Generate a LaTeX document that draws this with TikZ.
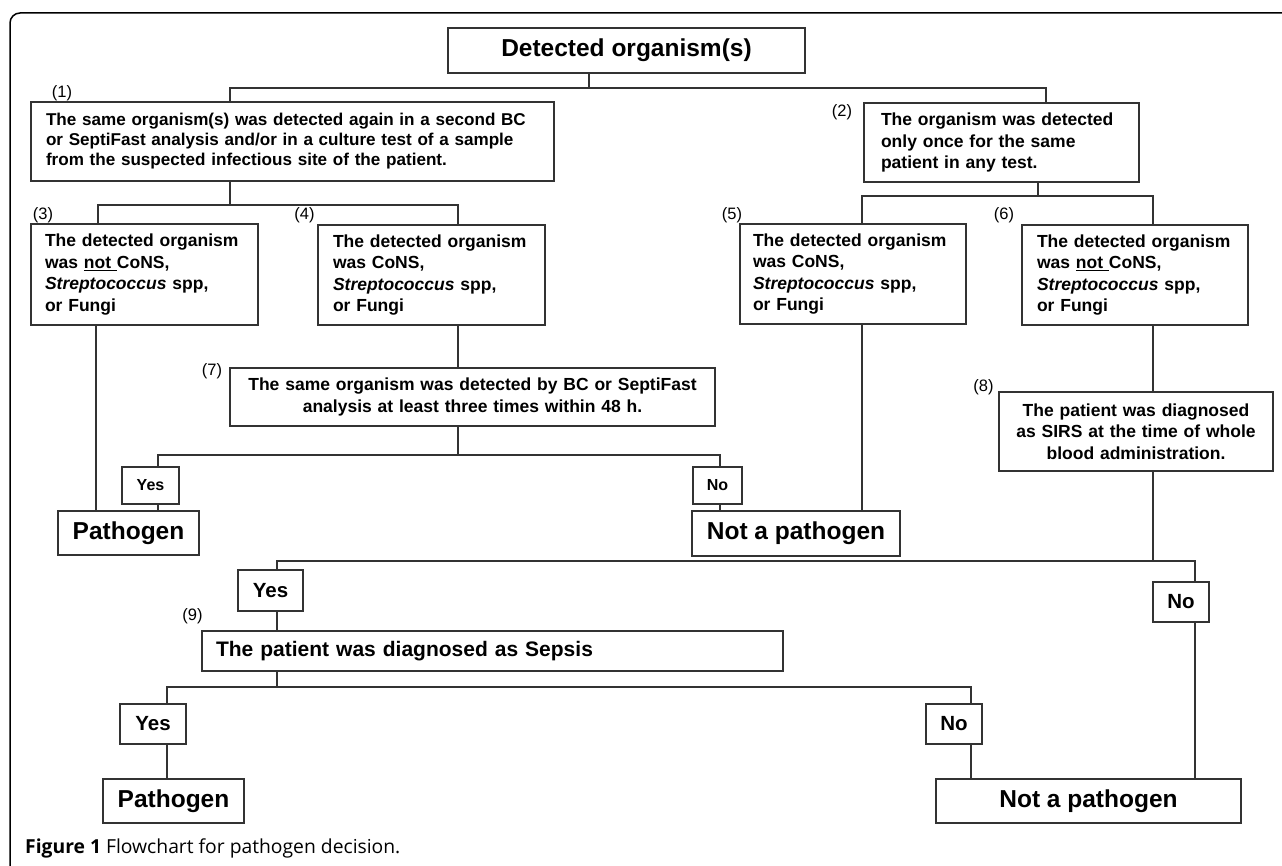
\documentclass[tikz,border=0pt]{standalone}
\usepackage{fontspec}
\setmainfont{Liberation Sans}
\newfontfamily\capfont{Open Sans}
\usepackage{tikz}

\begin{document}
\begin{tikzpicture}[x=1pt,y=-1pt,
    wire/.style={line width=1.1pt,draw=black!80},
    txtbox/.style={wire,inner ysep=0pt,align=left,font=\bfseries\fontsize{17.5}{21.5}\selectfont},
    ansbox/.style={wire,inner sep=0pt,font=\bfseries\fontsize{16}{18}\selectfont},
    bigans/.style={ansbox,font=\bfseries\fontsize{20.5}{22}\selectfont},
    endbox/.style={ansbox,font=\bfseries\fontsize{24.5}{26}\selectfont},
    numlab/.style={inner sep=0pt,font=\fontsize{16.5}{18}\selectfont}]
  \useasboundingbox (0,0) rectangle (1282,866);
  \draw[line width=1.5pt,rounded corners=10pt] (10,866) -- (10,13) -- (1282,13);

  \node[endbox,minimum width=357pt,minimum height=45pt] (top) at (626.5,50.5) {Detected organism(s)};

  \node[txtbox,font=\bfseries\fontsize{17.1}{20}\selectfont,minimum width=523pt,minimum height=79pt,inner xsep=15pt,text width=493pt] (b1) at (292.5,141.5)
    {The same organism(s) was detected again in a second BC\\ or SeptiFast analysis and/or in a culture test of a sample\\ from the suspected infectious site of the patient.};
  \node[txtbox,minimum width=275pt,minimum height=79pt,inner xsep=17pt,text width=241pt] (b2) at (1001.5,142.5)
    {The organism was detected\\ only once for the same\\ patient in any test.};
  \node[txtbox,minimum width=227pt,minimum height=101pt,inner xsep=14pt,text width=199pt] (b3) at (144.5,274.5)
    {The detected organism\\ was \underline{not\ }CoNS,\\ \textit{Streptococcus} spp,\\ or Fungi};
  \node[txtbox,minimum width=227pt,minimum height=100pt,inner xsep=15pt,text width=197pt] (b4) at (431.5,275)
    {The detected organism\\ was CoNS,\\ \textit{Streptococcus} spp,\\ or Fungi};
  \node[txtbox,minimum width=226pt,minimum height=100pt,inner xsep=13pt,text width=200pt] (b5) at (853,274)
    {The detected organism\\ was CoNS,\\ \textit{Streptococcus} spp,\\ or Fungi};
  \node[txtbox,minimum width=226pt,minimum height=100pt,inner xsep=15pt,text width=196pt] (b6) at (1135,275)
    {The detected organism\\ was \underline{not\ }CoNS,\\ \textit{Streptococcus} spp,\\ or Fungi};
  \node[txtbox,align=center,minimum width=485pt,minimum height=58pt,inner xsep=10pt,text width=465pt] (b7) at (472.5,397)
    {The same organism was detected by BC or SeptiFast\\ analysis at least three times within 48 h.};
  \node[txtbox,align=center,minimum width=274pt,minimum height=79pt,inner xsep=10pt,text width=254pt] (b8) at (1136,431.5)
    {The patient was diagnosed\\ as SIRS at the time of whole\\ blood administration.};
  \node[txtbox,font=\bfseries\fontsize{21}{24}\selectfont,minimum width=581pt,minimum height=40pt,inner xsep=14pt,text width=553pt] (b9) at (492.5,651)
    {The patient was diagnosed as Sepsis};

  \node[numlab] (l1) at (62,93) {(1)};
  \node[numlab] (l2) at (842,112) {(2)};
  \node[numlab] (l3) at (43,215) {(3)};
  \node[numlab] (l4) at (304.5,215) {(4)};
  \node[numlab] (l5) at (732,215) {(5)};
  \node[numlab] (l6) at (1004,215) {(6)};
  \node[numlab] (l7) at (212,371) {(7)};
  \node[numlab] (l8) at (983.5,387) {(8)};
  \node[numlab] (l9) at (192.5,616) {(9)};

  \node[ansbox,minimum width=57pt,minimum height=37pt] (y1) at (150.5,485.5) {Yes};
  \node[ansbox,minimum width=49pt,minimum height=37pt] (no1) at (717.5,485.5) {No};
  \node[endbox,minimum width=141pt,minimum height=44pt] (p1) at (128.5,533) {Pathogen};
  \node[endbox,minimum width=208pt,minimum height=45pt] (n1) at (796,533.5) {Not a pathogen};
  \node[bigans,minimum width=65pt,minimum height=41pt] (y2) at (270.5,590.5) {Yes};
  \node[bigans,minimum width=56pt,minimum height=40pt] (no2) at (1181,602) {No};
  \node[bigans,minimum width=66pt,minimum height=40pt] (y3) at (153,724) {Yes};
  \node[bigans,minimum width=56pt,minimum height=40pt] (no3) at (954,724) {No};
  \node[endbox,minimum width=141pt,minimum height=44pt] (p2) at (173.5,801) {Pathogen};
  \node[endbox,minimum width=305pt,minimum height=44pt] (n2) at (1088.5,801) {Not a pathogen};

  \coordinate (j0) at (589,88);
  \coordinate (j1) at (230,205);
  \coordinate (j2) at (1038,196);
  \coordinate (j7) at (458,455);
  \coordinate (j8) at (1153,561);
  \coordinate (j9) at (277,687);

  \draw[wire] (top.south -| j0) -- (j0);
  \draw[wire] (b1.north -| 230,0) |- (j0) -| (b2.north -| 1046,0);
  \draw[wire] (b1.south -| j1) -- (j1);
  \draw[wire] (b3.north -| 98,0) |- (j1) -| (b4.north -| 458,0);
  \draw[wire] (b2.south -| j2) -- (j2);
  \draw[wire] (b5.north -| 862,0) |- (j2) -| (b6.north -| 1153,0);
  \draw[wire] (b4.south -| 458,0) -- (b7.north -| 458,0);
  \draw[wire] (b3.south -| 96,0) -- (p1.north -| 96,0);
  \draw[wire] (b5.south -| 862,0) -- (n1.north -| 862,0);
  \draw[wire] (b7.south -| j7) -- (j7);
  \draw[wire] (y1.north -| 158,0) |- (j7) -| (no1.north -| 720,0);
  \draw[wire] (y1.south -| 158,0) -- (p1.north -| 158,0);
  \draw[wire] (no1.south -| 720,0) -- (n1.north -| 720,0);
  \draw[wire] (b6.south -| 1153,0) -- (b8.north -| 1153,0);
  \draw[wire] (b8.south -| j8) -- (j8);
  \draw[wire] (y2.north -| 277,0) |- (j8) -| (no2.north -| 1195,0);
  \draw[wire] (y2.south -| 277,0) -- (b9.north -| 277,0);
  \draw[wire] (no2.south -| 1195,0) -- (n2.north -| 1195,0);
  \draw[wire] (b9.south -| j9) -- (j9);
  \draw[wire] (y3.north -| 167,0) |- (j9) -| (no3.north -| 971,0);
  \draw[wire] (y3.south -| 167,0) -- (p2.north -| 167,0);
  \draw[wire] (no3.south -| 971,0) -- (n2.north -| 971,0);

  \node[anchor=west,inner sep=0pt,font=\capfont\fontsize{19.3}{22}\selectfont] (cap) at (25,848)
    {\textbf{Figure 1} Flowchart for pathogen decision.};
\end{tikzpicture}
\end{document}
